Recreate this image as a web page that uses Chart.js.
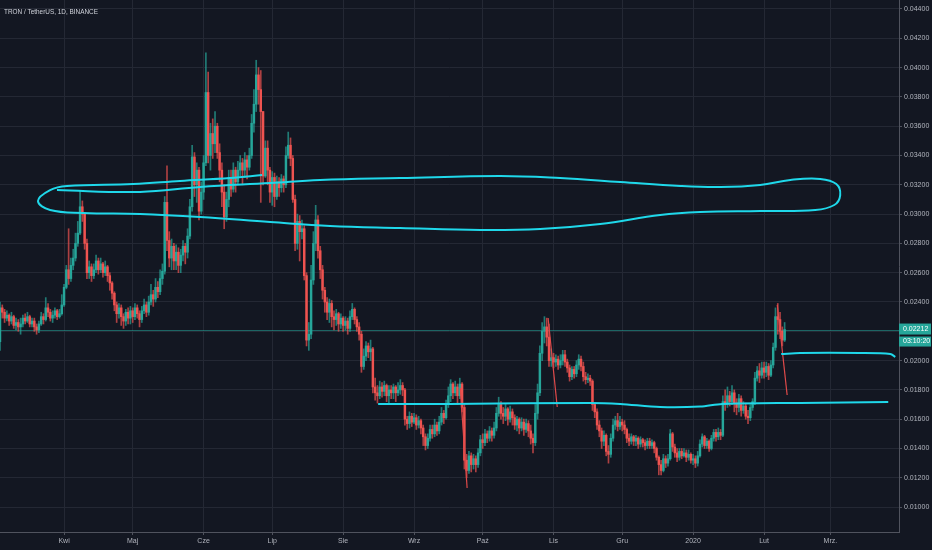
<!DOCTYPE html>
<html>
<head>
<meta charset="utf-8">
<script src="https://cdn.jsdelivr.net/npm/chart.js@4.4.1/dist/chart.umd.min.js"></script>
<style>
  html, body { margin: 0; padding: 0; background: #131722; overflow: hidden; }
  #wrap { width: 932px; height: 550px; position: relative; }
</style>
</head>
<body>
<div id="wrap"><canvas id="chart"></canvas></div>
<script>
// TRX / USDT daily, 4 Mar 2019 .. 10 Feb 2020, prices in 1e-5 USDT
// day index 0 = 4 Mar 2019, open of a day = close of the day before
var title = "TRON / TetherUS, 1D, BINANCE";
var firstOpen = 2130;
var closes = [
  // Mar
  2360,2330,2290,2310,2270,2300,2240,2260,2230,2250,2290,2270,2300,2250,2270,2230,2210,2250,2300,2280,2360,2330,2290,2310,2340,2300,2320,2380,
  // Apr
  2500,2620,2560,2650,2700,2800,2870,3050,3000,2800,2600,2640,2580,2620,2680,2620,2660,2600,2640,2580,2530,2460,2380,2320,2360,2300,2270,2330,2290,2340,
  // May
  2300,2360,2320,2280,2340,2380,2330,2400,2450,2420,2500,2470,2560,2610,3080,2820,2700,2780,2680,2740,2650,2720,2780,2740,2850,3050,3390,3200,3300,3020,3150,
  // Jun
  3350,3830,3400,3550,3480,3600,3420,3300,3150,2980,3100,3250,3170,3300,3220,3300,3350,3300,3370,3320,3400,3620,3750,3950,3850,3700,3260,3450,3300,3150,
  // Jul
  3250,3120,3220,3180,3240,3200,3400,3470,3380,3100,2800,2950,2880,2900,2580,2140,2180,2550,2800,2960,2750,2620,2480,2400,2330,2390,2300,2280,2320,2250,2290,
  // Aug
  2240,2270,2220,2300,2350,2280,2230,2180,1960,2030,2100,2060,2080,1820,1780,1760,1820,1790,1830,1760,1800,1780,1820,1780,1800,1830,1800,1600,1570,1620,1580,
  // Sep
  1610,1560,1590,1540,1480,1420,1470,1530,1500,1560,1520,1580,1640,1610,1700,1760,1840,1780,1820,1760,1840,1680,1320,1250,1350,1290,1330,1290,1370,1460,
  // Oct
  1440,1500,1470,1520,1490,1540,1640,1700,1640,1620,1670,1600,1650,1610,1560,1600,1540,1580,1530,1570,1520,1470,1440,1640,1780,2050,2200,2230,2160,2000,2020,
  // Nov
  1990,2010,1970,2000,2040,1990,1950,1890,1940,1910,1970,2010,1960,1890,1870,1880,1860,1700,1650,1560,1520,1450,1490,1380,1360,1470,1560,1590,1550,1580,
  // Dec
  1560,1530,1470,1450,1480,1450,1470,1430,1460,1440,1420,1450,1420,1440,1400,1340,1290,1250,1330,1300,1330,1500,1410,1370,1340,1380,1350,1370,1340,1360,1320,
  // Jan
  1330,1300,1350,1430,1480,1420,1450,1400,1470,1510,1480,1510,1490,1720,1700,1760,1720,1780,1710,1680,1740,1660,1690,1620,1610,1680,1720,1880,1930,1900,1950,
  // Feb
  1920,1960,1900,1970,2090,2300,2280,2200,2140,2212
];
var highs = [
  2400,2380,2350,2340,2320,2330,2310,2290,2280,2290,2310,2320,2330,2310,2290,2290,2250,2270,2330,2320,2430,2390,2350,2340,2360,2350,2350,2450,
  2520,2650,2900,2700,2760,2870,2950,3160,3090,3010,2830,2680,2660,2660,2720,2700,2700,2670,2680,2650,2600,2540,2470,2400,2390,2380,2320,2350,2360,2370,
  2360,2390,2380,2340,2370,2420,2400,2440,2520,2480,2560,2540,2620,2660,3120,3330,2880,2830,2800,2790,2770,2760,2820,2800,2900,3100,3470,3420,3350,3320,3220,
  3400,4100,3970,3620,3650,3700,3620,3480,3350,3200,3150,3300,3300,3350,3320,3360,3400,3380,3420,3400,3450,3680,3850,4050,4000,3980,3700,3500,3500,3320,
  3290,3280,3260,3250,3270,3260,3460,3560,3520,3400,3130,3000,2990,2960,2920,2600,2260,2650,2880,3060,2990,2780,2650,2500,2430,2420,2410,2340,2350,2330,2320,
  2300,2300,2290,2340,2390,2360,2300,2260,2200,2080,2130,2120,2140,2090,1880,1830,1860,1850,1860,1840,1830,1830,1840,1830,1850,1870,1850,1810,1620,1650,1640,
  1640,1630,1620,1600,1560,1500,1500,1560,1560,1600,1580,1620,1680,1660,1730,1820,1870,1850,1860,1840,1880,1850,1700,1360,1380,1370,1360,1350,1400,1490,
  1500,1530,1520,1550,1540,1580,1680,1750,1720,1680,1700,1680,1690,1670,1630,1620,1610,1610,1600,1600,1590,1560,1500,1700,1840,2100,2260,2300,2290,2250,2080,
  2050,2040,2030,2040,2070,2070,2010,1970,1960,1960,2000,2040,2030,1990,1920,1910,1900,1870,1710,1670,1590,1540,1520,1500,1420,1500,1600,1620,1640,1620,
  1600,1590,1540,1500,1500,1490,1490,1480,1480,1470,1460,1470,1470,1460,1450,1410,1350,1320,1360,1350,1360,1530,1510,1430,1400,1400,1400,1400,1390,1390,1370,
  1360,1350,1380,1460,1500,1490,1470,1460,1490,1530,1530,1540,1530,1760,1800,1820,1790,1830,1800,1740,1770,1760,1720,1710,1660,1700,1740,1920,1960,1980,1990,
  1990,1990,1980,2000,2120,2360,2390,2330,2230,2260
];
var lows = [
  2070,2290,2260,2270,2240,2250,2220,2210,2200,2180,2230,2250,2260,2230,2230,2200,2180,2190,2240,2250,2270,2300,2270,2260,2290,2280,2290,2310,
  2370,2490,2520,2540,2620,2680,2780,2860,2950,2760,2560,2560,2540,2560,2600,2590,2600,2570,2580,2540,2480,2420,2340,2260,2290,2240,2220,2240,2250,2250,
  2260,2280,2290,2230,2260,2320,2300,2310,2380,2370,2400,2430,2450,2520,2590,2750,2640,2620,2620,2620,2600,2600,2680,2660,2700,2830,3020,3120,3080,2960,3000,
  3100,3330,3350,3300,3380,3420,3380,3220,3050,2900,2950,3050,3120,3150,3150,3200,3260,3200,3250,3240,3300,3380,3560,3700,3750,3080,3200,3250,3200,3080,
  3060,3050,3100,3120,3150,3150,3180,3380,3330,3080,2750,2760,2680,2830,2550,2100,2070,2150,2520,2750,2700,2560,2420,2330,2280,2260,2230,2210,2240,2200,2220,
  2200,2210,2180,2200,2280,2250,2200,2140,1920,1940,2000,2020,2000,1780,1730,1710,1740,1750,1760,1720,1700,1740,1740,1720,1760,1770,1760,1560,1530,1540,1550,
  1570,1530,1540,1500,1420,1390,1400,1450,1470,1480,1490,1500,1560,1570,1600,1680,1720,1740,1760,1700,1740,1650,1260,1200,1230,1240,1260,1240,1270,1350,
  1400,1420,1440,1450,1450,1470,1520,1620,1600,1570,1590,1560,1580,1560,1530,1520,1500,1520,1490,1510,1480,1430,1370,1420,1600,1760,2000,2120,2100,1960,1960,
  1950,1960,1940,1950,1970,1960,1920,1860,1870,1880,1890,1940,1930,1860,1840,1850,1830,1660,1610,1530,1480,1400,1420,1350,1300,1340,1450,1530,1520,1530,
  1520,1500,1440,1420,1430,1420,1420,1400,1410,1410,1390,1400,1400,1400,1370,1320,1220,1220,1240,1270,1280,1320,1380,1340,1310,1320,1330,1340,1310,1320,1300,
  1290,1270,1280,1340,1410,1400,1400,1380,1390,1450,1450,1460,1460,1480,1660,1680,1690,1700,1650,1630,1650,1620,1640,1600,1570,1590,1660,1700,1860,1850,1880,
  1880,1890,1870,1890,1950,2070,2180,2150,2100,2130
];

var monthTicks = [28, 58, 89, 119, 150, 181, 211, 242, 272, 303, 334, 363];
var monthLabels = ["Kwi", "Maj", "Cze", "Lip", "Sie", "Wrz", "Paź", "Lis", "Gru", "2020", "Lut", "Mrz."];
var priceTicks = [0.010, 0.012, 0.014, 0.016, 0.018, 0.020, 0.022, 0.024, 0.026, 0.028,
                  0.030, 0.032, 0.034, 0.036, 0.038, 0.040, 0.042, 0.044];
var lastPrice = 0.02212;
var countdown = "03:10:20";

// hand drawn marks, [day index, price in 1e-5]
var loopLine = [
  [114.6,3267],[100.6,3246],[78.7,3226],[58.2,3205],[29.3,3192],[21.9,3164],[16.6,3089],[21.9,3028],
  [36.3,3008],[61.2,3001],[87.5,2980],[118.1,2946],[144.3,2919],[174.9,2905],[209.9,2891],[236.1,2898],
  [262.4,2932],[288.6,2994],[306.1,3014],[332.3,3021],[356.4,3028],[364.7,3062],[367.3,3130],[365.6,3205],
  [358.6,3240],[345.5,3233],[332.3,3199],[314.9,3185],[297.4,3192],[271.1,3219],[244.9,3246],[218.7,3260],
  [174.9,3246],[139.9,3233],[118.1,3212],[87.5,3185],[61.2,3151],[24.9,3164]
];
var supportLine = [
  [165.3,1704],[196.8,1704],[258,1711],[271.1,1704],[288.6,1683],[306.1,1686],[315.7,1704],[349.8,1711],[388.3,1717]
];
var targetLine = [[341.5,2045],[349.8,2052],[376,2052],[389.2,2045],[391.4,2025]];
var redLines = [
  [[201.2,1813],[204.2,1130]],
  [[239.6,2291],[243.6,1683]],
  [[339.8,2380],[344.1,1765]]
];

var UP = "#26a69a", DOWN = "#ef5350";

function pts(arr) {
  return arr.map(function (p) { return { x: p[0], y: p[1] / 1e5 }; });
}

var bodies = [], wicks = [], bodyColors = [], wickColors = [];
for (var i = 0; i < closes.length; i++) {
  var o = i === 0 ? firstOpen : closes[i - 1];
  var c = closes[i];
  var up = c >= o;
  bodies.push({ x: i, y: [o / 1e5, c / 1e5] });
  wicks.push({ x: i, y: [Math.min(lows[i], o, c) / 1e5, Math.max(highs[i], o, c) / 1e5] });
  bodyColors.push(up ? UP : DOWN);
  wickColors.push(up ? "rgba(38,166,154,0.7)" : "rgba(239,83,80,0.7)");
}

function drawing(points, color, width, tension) {
  return {
    type: "line",
    data: pts(points),
    borderColor: color,
    borderWidth: width,
    pointRadius: 0,
    tension: tension,
    fill: false,
    order: 0
  };
}

var datasets = [
  drawing(loopLine, "#1fd8ea", 2, 0.4),
  drawing(supportLine, "#1fd8ea", 2, 0.3),
  drawing(targetLine, "#1fd8ea", 2, 0.3)
];
redLines.forEach(function (l) { datasets.push(drawing(l, "#e04a4a", 1.2, 0)); });
datasets.push({
  data: bodies,
  backgroundColor: bodyColors,
  barThickness: 1.8,
  minBarLength: 1,
  grouped: false,
  borderWidth: 0,
  order: 1
});
datasets.push({
  data: wicks,
  backgroundColor: wickColors,
  barThickness: 1,
  grouped: false,
  borderWidth: 0,
  order: 2
});

var overlay = {
  id: "overlay",
  beforeDatasetsDraw: function (chart) {
    var ctx = chart.ctx, area = chart.chartArea;
    var y = Math.round(chart.scales.y.getPixelForValue(lastPrice)) + 0.5;
    ctx.save();
    ctx.strokeStyle = "rgba(38,166,154,0.55)";
    ctx.lineWidth = 1;
    ctx.beginPath();
    ctx.moveTo(area.left, y);
    ctx.lineTo(area.right, y);
    ctx.stroke();
    ctx.restore();
  },
  afterDraw: function (chart) {
    var ctx = chart.ctx, area = chart.chartArea;
    var y = chart.scales.y.getPixelForValue(lastPrice);
    ctx.save();
    ctx.fillStyle = UP;
    ctx.fillRect(area.right, y - 6, 32, 11);
    ctx.fillRect(area.right, y + 7, 32, 10);
    ctx.fillStyle = "#ffffff";
    ctx.font = "7px 'Liberation Sans', Arial, sans-serif";
    ctx.textBaseline = "middle";
    ctx.fillText(lastPrice.toFixed(5), area.right + 4, y);
    ctx.fillText(countdown, area.right + 4, y + 12);
    ctx.fillStyle = "#d1d4dc";
    ctx.font = "8px 'Liberation Sans', Arial, sans-serif";
    ctx.textBaseline = "alphabetic";
    ctx.fillText(title, 4, 13.5, 94);
    ctx.restore();
  }
};

Chart.defaults.font.family = "'Liberation Sans', Arial, sans-serif";
Chart.defaults.font.size = 7;
Chart.defaults.color = "#b2b5be";

new Chart(document.getElementById("chart"), {
  type: "bar",
  data: { datasets: datasets },
  options: {
    responsive: true,
    maintainAspectRatio: false,
    animation: false,
    layout: { padding: 0 },
    plugins: { legend: { display: false }, tooltip: { enabled: false } },
    scales: {
      x: {
        type: "linear",
        min: 0,
        max: 393,
        offset: false,
        grid: { color: "#242834", offset: false, tickLength: 3, tickColor: "#50535e" },
        border: { color: "#50535e" },
        ticks: {
          padding: 2,
          maxRotation: 0,
          autoSkip: false,
          callback: function (v, idx) { return monthLabels[idx]; }
        },
        afterBuildTicks: function (scale) {
          scale.ticks = monthTicks.map(function (v) { return { value: v }; });
        },
        afterFit: function (scale) {
          scale.height = 18;
          scale.paddingLeft = 0;
          scale.paddingRight = 0;
        }
      },
      y: {
        type: "linear",
        position: "right",
        min: 0.0083,
        max: 0.044614,
        grid: { color: "#242834", tickLength: 3, tickColor: "#50535e" },
        border: { color: "#50535e" },
        ticks: {
          padding: 2,
          callback: function (v) { return v.toFixed(5); }
        },
        afterBuildTicks: function (scale) {
          scale.ticks = priceTicks.map(function (v) { return { value: v }; });
        },
        afterFit: function (scale) {
          scale.width = 33;
          scale.paddingTop = 0;
          scale.paddingBottom = 0;
        }
      }
    }
  },
  plugins: [overlay]
});
</script>
</body>
</html>
